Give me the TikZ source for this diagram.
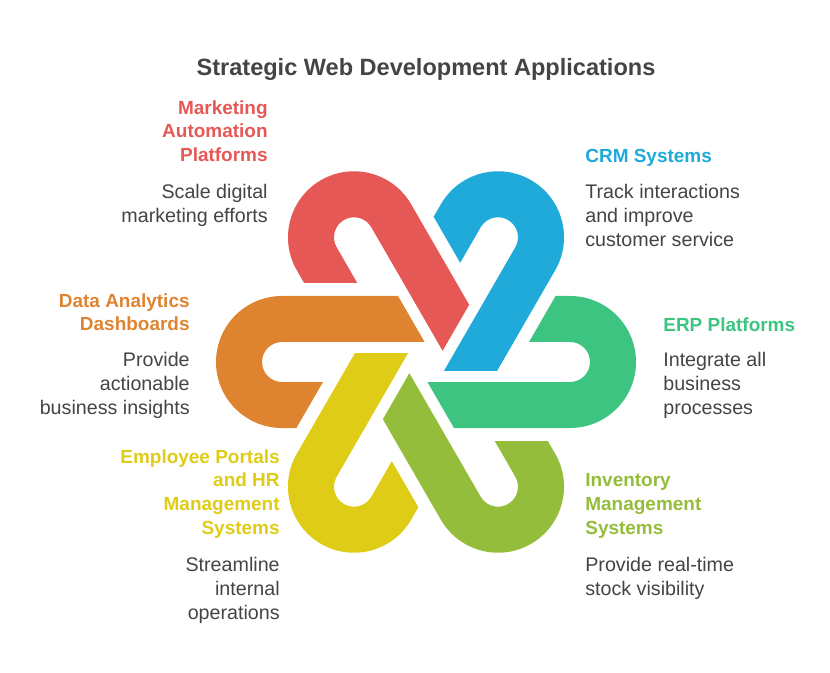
\documentclass[tikz,border=0pt]{standalone}
\usepackage{fontspec}
\setmainfont{Liberation Sans}
\definecolor{cred}{HTML}{E65855}
\definecolor{cblue}{HTML}{1FAAD9}
\definecolor{cgreen}{HTML}{3DC481}
\definecolor{clime}{HTML}{93BD3A}
\definecolor{cyellow}{HTML}{DFCC17}
\definecolor{corange}{HTML}{DE8431}
\definecolor{txt}{HTML}{444444}
\tikzset{
  head/.style={inner sep=0pt,font=\fontsize{10.8pt}{13.6pt}\selectfont\bfseries},
  desc/.style={inner sep=0pt,text=txt,font=\fontsize{11.2pt}{13.6pt}\selectfont},
}
\begin{document}
\begin{tikzpicture}[x=0.02cm,y=0.02cm]
     		\useasboundingbox (-426,-310) rectangle (404,362);
     		% the six hairpins
     		\foreach \ang/\col in {0/corange,-60/cred,-120/cblue,-180/cgreen,-240/clime,-300/cyellow}
     		  \fill[\col,rotate=\ang] (-28,66) -- (-144,66) arc (90:270:66) -- (-129.6,-66)
     		    -- (-103,-20) -- (-144,-20) arc (270:90:20) -- (-1.4,20) -- cycle;
     		\node[font=\fontsize{13.4pt}{15pt}\selectfont\bfseries,text=txt] (title) at (0,293) {Strategic Web Development Applications};
     		% left side
     		\node[head,text=cred,anchor=north east,align=right] (mkth) at (-158,262) {Marketing\\Automation\\Platforms};
     		\node[desc,anchor=north east,align=right] (mktd) at (-158,178) {Scale digital\\marketing efforts};
     		\node[head,text=corange,anchor=north east,align=right] (dath) at (-236,69) {Data Analytics\\Dashboards};
     		\node[desc,anchor=north east,align=right] (datd) at (-236,10) {Provide\\actionable\\business insights};
     		\node[head,text=cyellow,anchor=north east,align=right] (emph) at (-146,-87) {Employee Portals\\and HR\\Management\\Systems};
     		\node[desc,anchor=north east,align=right] (empd) at (-146,-195) {Streamline\\internal\\operations};
     		% right side
     		\node[head,text=cblue,anchor=north west,align=left] (crmh) at (159,213) {CRM Systems};
     		\node[desc,anchor=north west,align=left] (crmd) at (159,178) {Track interactions\\and improve\\customer service};
     		\node[head,text=cgreen,anchor=north west,align=left] (erph) at (237,45) {ERP Platforms};
     		\node[desc,anchor=north west,align=left] (erpd) at (237,10) {Integrate all\\business\\processes};
     		\node[head,text=clime,anchor=north west,align=left] (invh) at (159,-111) {Inventory\\Management\\Systems};
     		\node[desc,anchor=north west,align=left] (invd) at (159,-195) {Provide real-time\\stock visibility};
\end{tikzpicture}
\end{document}
